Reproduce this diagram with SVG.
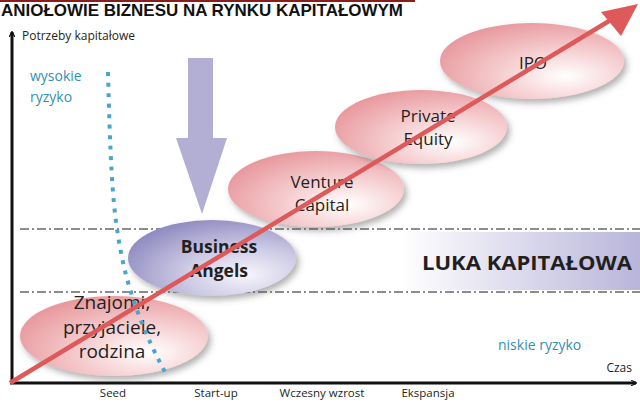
<svg xmlns="http://www.w3.org/2000/svg" width="640" height="402" viewBox="0 0 640 402">
<style>
.t{font-family:"Open Sans","Liberation Sans",sans-serif;fill:#231f20}
.ax{font-size:11.5px}
.el{font-size:17px}
.risk{font-family:"Open Sans","Liberation Sans",sans-serif;fill:#3590b0;font-size:14px}
.dd{stroke:#1a1a1a;stroke-width:1;stroke-dasharray:9 3 2 3;fill:none}
</style>
<defs>
<radialGradient id="pink" cx="0.68" cy="0.7" r="0.78">
<stop offset="0" stop-color="#ffffff"/>
<stop offset="0.4" stop-color="#f7d3d5"/>
<stop offset="1" stop-color="#e7969b"/>
</radialGradient>
<radialGradient id="lav" cx="0.7" cy="0.72" r="0.8">
<stop offset="0" stop-color="#f6f5fb"/>
<stop offset="0.45" stop-color="#cdcae5"/>
<stop offset="1" stop-color="#8e89bf"/>
</radialGradient>
<linearGradient id="gap" x1="0" y1="0" x2="1" y2="0">
<stop offset="0" stop-color="#ffffff"/>
<stop offset="1" stop-color="#b9b5da"/>
</linearGradient>
<filter id="sh" x="-20%" y="-20%" width="140%" height="150%">
<feDropShadow dx="3" dy="4" stdDeviation="3" flood-color="#555" flood-opacity="0.45"/>
</filter>
<marker id="ah" viewBox="0 0 10 10" refX="9" refY="5" markerWidth="6" markerHeight="6" orient="auto" markerUnits="userSpaceOnUse">
<path d="M0,0 L10,5 L0,10" fill="none" stroke="#111" stroke-width="2"/>
</marker>
</defs>
<rect width="640" height="402" fill="#fff"/>
<line x1="0" y1="1" x2="415" y2="1" stroke="#8b1c1c" stroke-width="2"/>
<text x="1" y="16" font-family="'Liberation Sans',sans-serif" font-weight="bold" font-size="17" fill="#111" textLength="402" lengthAdjust="spacingAndGlyphs">ANIOŁOWIE BIZNESU NA RYNKU KAPITAŁOWYM</text>

<g id="gap-band">
<rect x="400" y="232" width="240" height="58" fill="url(#gap)"/>
<line class="dd" x1="20" y1="229" x2="640" y2="229"/>
<line class="dd" x1="20" y1="292" x2="640" y2="292"/>
<text x="422" y="270" font-family="'Open Sans','Liberation Sans',sans-serif" font-weight="bold" font-size="20" fill="#231f20" textLength="210" lengthAdjust="spacingAndGlyphs">LUKA KAPITAŁOWA</text>
</g>

<g id="axes">
<line x1="12" y1="384" x2="12" y2="32" stroke="#111" stroke-width="3" marker-end="url(#ah)"/>
<line x1="10" y1="383" x2="636" y2="383" stroke="#111" stroke-width="3" marker-end="url(#ah)"/>
<text class="t" x="22" y="40" font-size="12">Potrzeby kapitałowe</text>
<text class="t" x="632" y="372" font-size="12" text-anchor="end">Czas</text>
<text class="t ax" x="113" y="397" text-anchor="middle">Seed</text>
<text class="t ax" x="216" y="397" text-anchor="middle">Start-up</text>
<text class="t ax" x="322" y="397" text-anchor="middle">Wczesny wzrost</text>
<text class="t ax" x="428" y="397" text-anchor="middle">Ekspansja</text>
</g>

<g id="big-arrow">
<path d="M188,58 H213 V138 H227 L202,214 L176,138 H188 Z" fill="#b3aed4"/>
</g>

<g id="znajomi">
<ellipse cx="114" cy="336" rx="94" ry="40" fill="url(#pink)" filter="url(#sh)"/>
<text class="t" font-size="19" text-anchor="middle"><tspan x="112" y="309">Znajomi,</tspan><tspan x="112" y="334">przyjaciele,</tspan><tspan x="112" y="358">rodzina</tspan></text>
</g>
<g id="business-angels">
<ellipse cx="212" cy="258" rx="84" ry="38" fill="url(#lav)" filter="url(#sh)"/>
<text class="t" font-size="17.5" font-weight="bold" text-anchor="middle"><tspan x="219" y="253">Business</tspan><tspan x="219" y="277">Angels</tspan></text>
</g>
<g id="venture">
<ellipse cx="316" cy="189" rx="88" ry="38" fill="url(#pink)" filter="url(#sh)"/>
<text class="t el" text-anchor="middle"><tspan x="322" y="188">Venture</tspan><tspan x="322" y="211">Capital</tspan></text>
</g>
<g id="private-equity">
<ellipse cx="421" cy="127" rx="86" ry="37" fill="url(#pink)" filter="url(#sh)"/>
<text class="t el" text-anchor="middle"><tspan x="428" y="122">Private</tspan><tspan x="428" y="145">Equity</tspan></text>
</g>
<g id="ipo">
<ellipse cx="532" cy="61" rx="92" ry="38" fill="url(#pink)" filter="url(#sh)"/>
<text class="t el" x="533" y="69" text-anchor="middle">IPO</text>
</g>

<g id="connectors">
<line x1="10" y1="383" x2="614" y2="18" stroke="#de5a5a" stroke-width="4.5"/>
<path d="M638,4 L601,12 L621,36 Z" fill="#de5a5a"/>
<path d="M108,72 C110,150 112,200 118,235 C126,290 145,335 166,374" fill="none" stroke="#4aa5cb" stroke-width="4" stroke-dasharray="4 6.5"/>
</g>

<text class="risk"><tspan x="30" y="81">wysokie</tspan><tspan x="30" y="102">ryzyko</tspan></text>
<text class="risk" x="498" y="350">niskie ryzyko</text>
</svg>
